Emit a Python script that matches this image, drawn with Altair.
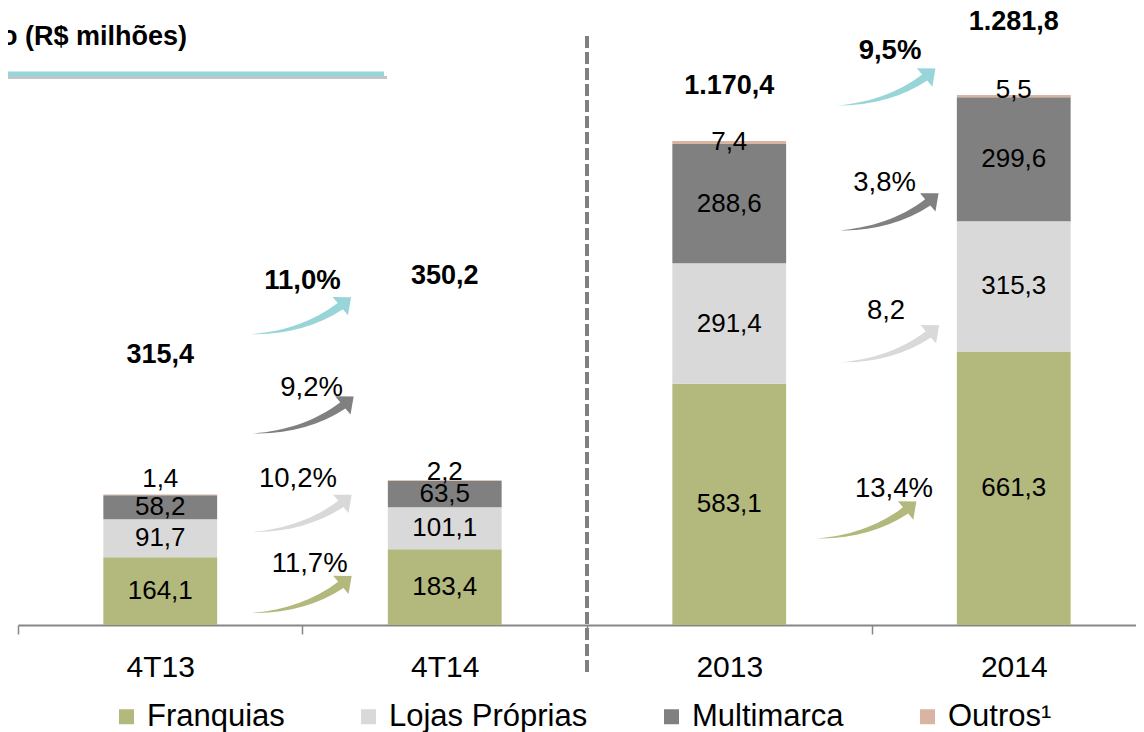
import altair as alt
import pandas as pd

# ---------------- data ----------------
categories = ["4T13", "4T14", "2013", "2014"]
series = ["Franquias", "Lojas Próprias", "Multimarca", "Outros¹"]
franquias = [164.1, 183.4, 583.1, 661.3]
lojas = [91.7, 101.1, 291.4, 315.3]
multimarca = [58.2, 63.5, 288.6, 299.6]
outros = [1.4, 2.2, 7.4, 5.5]
totals = [315.4, 350.2, 1170.4, 1281.8]
title_text = "o (R$ milhões)"

growth_series = ["Franquias", "Lojas Próprias", "Multimarca", "Total"] * 2
growth_text = ["11,7%", "10,2%", "9,2%", "11,0%", "13,4%", "8,2", "3,8%", "9,5%"]

# annotation placement (data units)
arrow_x = [0.997, 0.997, 1.004, 0.995, 2.982, 3.062, 3.060, 3.049]
arrow_y = [74, 270, 508, 748, 254, 680, 999, 1301]
growth_lx = [1.025, 0.984, 1.032, 1.000, 3.079, 3.051, 3.046, 3.065]
growth_ly = [148, 352, 572, 831, 329, 759, 1070, 1389]
total_ly = [653, 844, 1303, 1458]
outros_ly = [354, 369, 1168, 1294]

# ---------------- styles ----------------
FONT = "Liberation Sans"
colors = ["#b3b87c", "#d9d9d9", "#808080", "#d9b4a2"]
arrow_colors = {"Franquias": "#b3b87c", "Lojas Próprias": "#d9d9d9",
                "Multimarca": "#808080", "Total": "#97d5d8"}
ARROW = ("M -1 0.37 C -0.4 0.33 0.24 0.13 0.732 -0.252 L 0.63 -0.374 L 1 -0.37 "
         "L 0.938 -0.006 L 0.836 -0.128 C 0.32 0.21 -0.32 0.39 -1 0.37 Z")

W, H = 1118, 617
STEP = 284.5
X_MAX = W / STEP
Y_MAX = 1492

fmt = lambda v: f"{v:.1f}".replace(".", ",")
fmt_total = lambda v: f"{v:,.1f}".replace(",", "X").replace(".", ",").replace("X", ".")

rows = []
for i, c in enumerate(categories):
    for j, vals in enumerate([franquias, lojas, multimarca, outros]):
        rows.append({"cat": c, "idx": i, "series": series[j], "ord": j,
                     "value": vals[i], "label": fmt(vals[i])})
df = pd.DataFrame(rows)

df_tot = pd.DataFrame({"idx": list(range(4)), "y": total_ly,
                       "label": [fmt_total(v) for v in totals]})
df_out = pd.DataFrame({"idx": list(range(4)), "y": outros_ly,
                       "label": [fmt(v) for v in outros]})
df_arrow = pd.DataFrame({"series": growth_series, "x": arrow_x, "y": arrow_y})
df_growth = pd.DataFrame({"series": growth_series, "x": growth_lx, "y": growth_ly,
                          "label": growth_text})

xs = alt.Scale(domain=[0, X_MAX], nice=False, zero=False)
ys = alt.Scale(domain=[0, Y_MAX], nice=False, zero=True)

cat_js = "[" + ",".join(f"'{c}'" for c in categories) + "]"
x_axis = alt.Axis(
    values=[0, 0.5, 1, 1.5, 2, 2.5, 3, 3.5],
    labelExpr=f"datum.value % 1 == 0 ? '' : {cat_js}[floor(datum.value)]",
    tickOpacity={"condition": {"test": "datum.value % 1 != 0", "value": 0}, "value": 1},
    tickSize=9, tickWidth=1.5, tickColor="#878787",
    domainColor="#878787", domainWidth=2,
    labelFont=FONT, labelFontSize=30, labelColor="black", labelPadding=18,
    labelFlush=False, labelOverlap=False, grid=False, title=None,
)


def X(field):
    return alt.X(field, scale=xs, axis=x_axis)


def Y(field):
    return alt.Y(field, scale=ys, axis=None)


stacked = alt.Chart(df).transform_stack(
    stack="value", groupby=["cat"], as_=["y0", "y1"],
    sort=[alt.SortField("ord", order="ascending")],
)

bars = stacked.transform_calculate(
    x0="datum.idx + 0.3", x1="datum.idx + 0.7"
).mark_bar(strokeWidth=0).encode(
    x=X("x0:Q"),
    x2="x1:Q",
    y=Y("y0:Q"),
    y2="y1:Q",
    color=alt.Color("series:N", scale=alt.Scale(domain=series, range=colors),
                    sort=series,
                    legend=alt.Legend(orient="none", legendX=93, legendY=693,
                                      direction="horizontal", title=None,
                                      symbolType="square", symbolSize=225,
                                      symbolStrokeWidth=0, labelFont=FONT,
                                      labelFontSize=31, labelColor="black",
                                      labelOffset=5, columnPadding=68,
                                      padding=0, labelLimit=0)),
)

inside = stacked.transform_filter("datum.ord < 3").transform_calculate(
    xm="datum.idx + 0.5", ym="(datum.y0 + datum.y1) / 2"
).mark_text(font=FONT, fontSize=26, color="black", baseline="middle").encode(
    x=X("xm:Q"), y=Y("ym:Q"), text="label:N",
)

outros_lbl = alt.Chart(df_out).transform_calculate(xm="datum.idx + 0.5").mark_text(
    font=FONT, fontSize=26, color="black", baseline="middle").encode(
    x=X("xm:Q"), y=Y("y:Q"), text="label:N",
)

tot_lbl = alt.Chart(df_tot).transform_calculate(xm="datum.idx + 0.5").mark_text(
    font=FONT, fontSize=27, fontWeight="bold", color="black", baseline="middle").encode(
    x=X("xm:Q"), y=Y("y:Q"), text="label:N",
)

arrow_layers = []
for s, col in arrow_colors.items():
    arrow_layers.append(
        alt.Chart(df_arrow).transform_filter(alt.datum.series == s).mark_point(
            shape=ARROW, size=10000, filled=True, opacity=1, strokeWidth=0, color=col
        ).encode(x=X("x:Q"), y=Y("y:Q"))
    )

growth_norm = alt.Chart(df_growth).transform_filter(alt.datum.series != "Total").mark_text(
    font=FONT, fontSize=27.5, color="black", baseline="middle").encode(
    x=X("x:Q"), y=Y("y:Q"), text="label:N",
)
growth_bold = alt.Chart(df_growth).transform_filter(alt.datum.series == "Total").mark_text(
    font=FONT, fontSize=27.5, fontWeight="bold", color="black", baseline="middle").encode(
    x=X("x:Q"), y=Y("y:Q"), text="label:N",
)

sep = alt.Chart(pd.DataFrame({"x": [2.0]})).mark_rule(
    color="#7f7f7f", strokeWidth=4, strokeDash=[12, 4]).encode(
    x=X("x:Q"), y=alt.value(28), y2=alt.value(664),
)

df_title = pd.DataFrame({"t": [title_text]})
title = alt.Chart(df_title).mark_text(
    font=FONT, fontSize=27, fontWeight="bold", color="black",
    align="right", baseline="alphabetic").encode(
    x=alt.value(169), y=alt.value(37), text="t:N")
shadow = alt.Chart(df_title).mark_rule(color="#c4c4c4", strokeWidth=3).encode(
    x=alt.value(-10), x2=alt.value(369), y=alt.value(69.5))
underline = alt.Chart(df_title).mark_rule(color="#97d5d8", strokeWidth=5).encode(
    x=alt.value(-10), x2=alt.value(366), y=alt.value(66))

chart = alt.layer(
    shadow, underline, title, sep, bars, inside, outros_lbl, tot_lbl,
    *arrow_layers, growth_norm, growth_bold
).properties(
    width=W, height=H,
    autosize=alt.AutoSizeParams(type="none"),
    padding={"left": 10, "top": 0, "right": 0, "bottom": 107},
    background="white",
).configure_view(stroke=None)

chart.save("out.html", embed_options={"renderer": "svg", "actions": False})
